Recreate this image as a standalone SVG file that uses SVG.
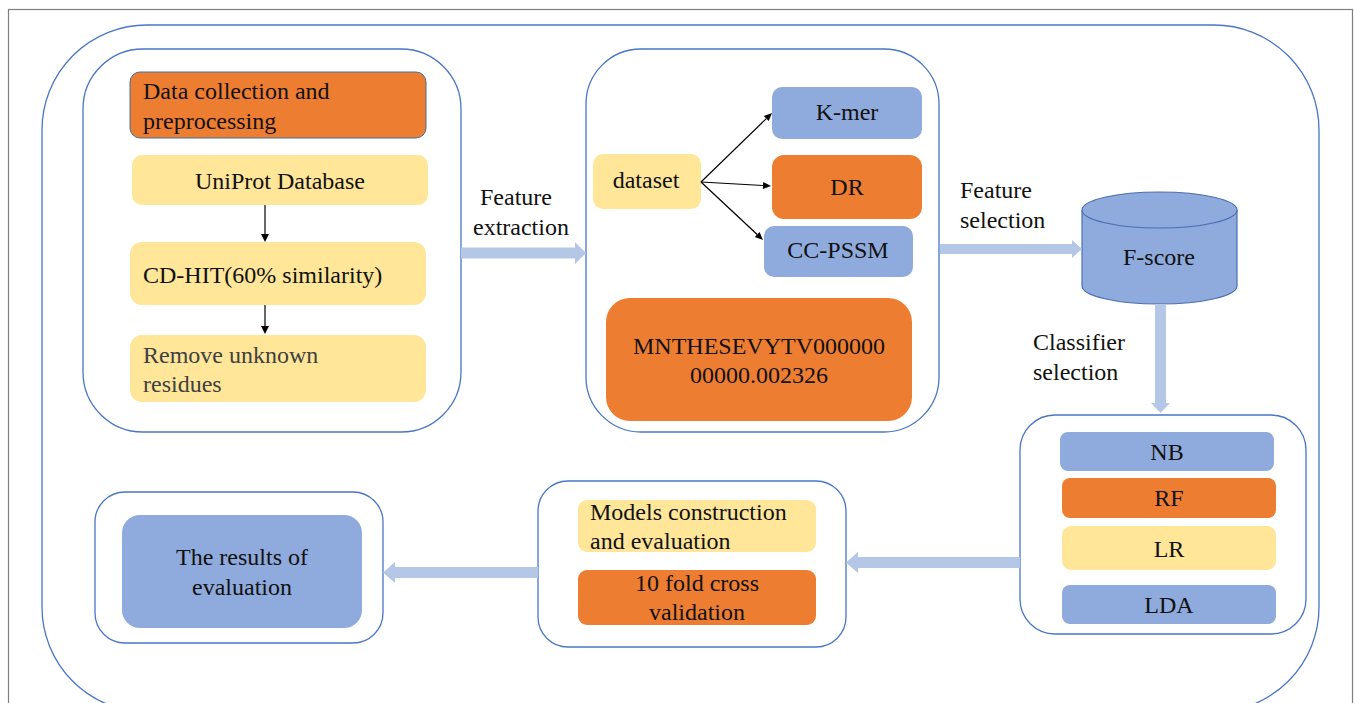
<svg xmlns="http://www.w3.org/2000/svg" width="1354" height="703" viewBox="0 0 1354 703">
<defs>
<style>
.frame{fill:#fff;stroke:#4a76c6;stroke-width:1.3}
.or{fill:#ED7D31}
.ye{fill:#FFE699}
.bl{fill:#8FAADC}
.blk{fill:#B4C7E7}
.ln{stroke:#000;stroke-width:1.2;fill:none}
</style>
</defs>
<rect x="0" y="0" width="1354" height="703" fill="#fff"/>
<rect x="8.5" y="9.5" width="1344" height="710" fill="none" stroke="#7f7f7f" stroke-width="1.2"/>
<rect x="42" y="25" width="1277" height="687" rx="105" ry="105" class="frame"/>

<g id="box-data">
<rect x="83" y="49" width="378" height="383" rx="60" class="frame"/>
<rect x="130" y="72" width="296" height="66" rx="10" class="or" stroke="#41719C" stroke-width="1"/>
<rect x="132" y="155" width="296" height="50" rx="10" class="ye"/>
<rect x="130" y="242" width="296" height="63" rx="12" class="ye"/>
<rect x="130" y="335" width="296" height="67" rx="12" class="ye"/>
<g font-family="Times New Roman" font-size="24" fill="#111">
<text x="143" y="99">Data collection and</text>
<text x="143" y="129">preprocessing</text>
<text x="280" y="189" text-anchor="middle">UniProt Database</text>
<text x="143" y="283">CD-HIT(60% similarity)</text>
<text x="143" y="363" fill="#404040">Remove unknown</text>
<text x="143" y="392" fill="#404040">residues</text>
</g>
</g>

<g id="box-features">
<rect x="586" y="49" width="353" height="383" rx="55" class="frame"/>
<rect x="593" y="154" width="108" height="55" rx="10" class="ye"/>
<rect x="772" y="87" width="150" height="52" rx="10" class="bl"/>
<rect x="772" y="155" width="150" height="64" rx="12" class="or"/>
<rect x="764" y="226" width="149" height="51" rx="10" class="bl"/>
<rect x="606" y="298" width="306" height="123" rx="24" class="or"/>
<g font-family="Times New Roman" font-size="24" fill="#111" text-anchor="middle">
<text x="646" y="188">dataset</text>
<text x="847" y="120">K-mer</text>
<text x="847" y="195">DR</text>
<text x="838" y="258">CC-PSSM</text>
<text x="759" y="354">MNTHESEVYTV000000</text>
<text x="759" y="383">00000.002326</text>
</g>
</g>

<g id="fscore">
<path d="M1082,210 L1082,286 A77.5,18 0 0 0 1237,286 L1237,210" fill="#8FAADC" stroke="#4a6fb0" stroke-width="1.2"/>
<ellipse cx="1159.5" cy="210" rx="77.5" ry="18" fill="#8FAADC" stroke="#4a6fb0" stroke-width="1.2"/>
<text x="1159" y="265" font-family="Times New Roman" font-size="24" fill="#111" text-anchor="middle">F-score</text>
</g>

<g id="box-classifiers">
<rect x="1020" y="415" width="286" height="219" rx="35" class="frame"/>
<rect x="1060" y="432" width="214" height="39" rx="8" class="bl"/>
<rect x="1062" y="478" width="214" height="40" rx="8" class="or"/>
<rect x="1062" y="526" width="214" height="44" rx="9" class="ye"/>
<rect x="1062" y="585" width="214" height="39" rx="8" class="bl"/>
<g font-family="Times New Roman" font-size="24" fill="#111" text-anchor="middle">
<text x="1167" y="460">NB</text>
<text x="1169" y="506">RF</text>
<text x="1169" y="557">LR</text>
<text x="1169" y="613">LDA</text>
</g>
</g>

<g id="box-models">
<rect x="538" y="481" width="308" height="166" rx="30" class="frame"/>
<rect x="578" y="500" width="238" height="52" rx="9" class="ye"/>
<rect x="578" y="570" width="238" height="55" rx="9" class="or"/>
<g font-family="Times New Roman" font-size="24" fill="#111">
<text x="590" y="520">Models construction</text>
<text x="590" y="549">and evaluation</text>
<text x="697" y="591" text-anchor="middle">10 fold cross</text>
<text x="697" y="620" text-anchor="middle">validation</text>
</g>
</g>

<g id="box-results">
<rect x="95" y="492" width="288" height="151" rx="30" class="frame"/>
<rect x="122" y="515" width="240" height="113" rx="18" class="bl"/>
<g font-family="Times New Roman" font-size="24" fill="#111" text-anchor="middle">
<text x="242" y="565">The results of</text>
<text x="242" y="595">evaluation</text>
</g>
</g>

<g id="labels" font-family="Times New Roman" font-size="24" fill="#111">
<text x="480" y="205">Feature</text>
<text x="473" y="235">extraction</text>
<text x="960" y="198">Feature</text>
<text x="960" y="228">selection</text>
<text x="1033" y="350">Classifier</text>
<text x="1033" y="380">selection</text>
</g>

<g id="connectors">
<line x1="265" y1="205" x2="265" y2="235" class="ln"/>
<polygon points="261,234 269,234 265,242" fill="#000"/>
<line x1="265" y1="305" x2="265" y2="327" class="ln"/>
<polygon points="261,326 269,326 265,334" fill="#000"/>
<line x1="701" y1="182" x2="766.3" y2="118.6" class="ln"/>
<polygon points="768.7,121.1 763.8,116.1 772,113" fill="#000"/>
<line x1="701" y1="182" x2="763" y2="185.5" class="ln"/>
<polygon points="762.8,189 763.2,182 771,186" fill="#000"/>
<line x1="701" y1="182" x2="757.2" y2="234.5" class="ln"/>
<polygon points="754.8,237.1 759.6,232 763,240" fill="#000"/>
<polygon class="blk" points="461,247.5 575,247.5 575,242 586,253 575,264 575,258.5 461,258.5"/>
<polygon class="blk" points="940,244 1072,244 1072,240 1082,249 1072,258 1072,254 940,254"/>
<polygon class="blk" points="1155,304 1166,304 1166,403 1170,403 1160.5,413 1151,403 1155,403"/>
<polygon class="blk" points="1020,557 858,557 858,552 846,562.5 858,573 858,568 1020,568"/>
<polygon class="blk" points="538,567 395,567 395,562 383,572.5 395,583 395,578 538,578"/>
</g>
</svg>
